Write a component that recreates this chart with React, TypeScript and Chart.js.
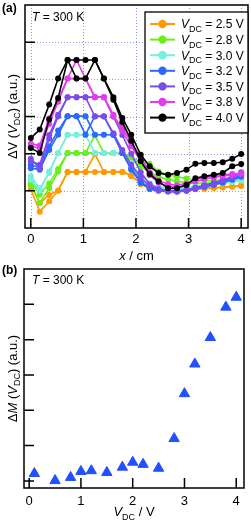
import React, { useEffect, useRef } from "react";
import { Chart, registerables } from "chart.js";

Chart.register(...registerables);

const FONT = '"Liberation Sans", Arial, Helvetica, sans-serif';

// ---------- panel (a) data ----------
const positionsCm = [0, 0.17, 0.35, 0.52, 0.7, 0.87, 1.04, 1.22, 1.39, 1.57, 1.74, 1.91, 2.09, 2.26, 2.43, 2.61, 2.78, 2.96, 3.13, 3.3, 3.48, 3.65, 3.83, 4.0];
const vdcLabels = ["2.5", "2.8", "3.0", "3.2", "3.5", "3.8", "4.0"];
const seriesColors = ["#FF9A00", "#6AEE1C", "#74F0DC", "#2A68FF", "#7A4CF0", "#E23CEE", "#000000"];

const dV25a = [1.2, 0.67, 0.89, 1.01, 1.51, 1.51, 1.51, 1.51, 1.51, 1.51, 1.51, 1.4, 1.21, 1.1, 1.05, 1.02, 1.02, 1.03, 1.05, 1.06, 1.08, 1.09, 1.11, 1.13];
const dV25b = [1.05, 0.44, 0.72, 1.0, 1.51, 1.51, 1.51, 1.99, 1.51, 1.51, 1.51, 1.42, 1.18, 1.07, 1.03, 1.0, 1.0, 1.02, 1.04, 1.06, 1.08, 1.1, 1.12, 1.15];
const dV28a = [1.16, 0.67, 1.07, 1.52, 2.02, 2.02, 2.02, 2.02, 2.02, 2.02, 2.02, 1.9, 1.78, 1.72, 1.52, 1.43, 1.38, 1.33, 1.28, 1.27, 1.28, 1.3, 1.33, 1.36];
const dV28b = [1.25, 0.9, 1.2, 1.59, 2.02, 2.02, 2.02, 2.49, 2.02, 2.02, 2.02, 1.85, 1.65, 1.5, 1.38, 1.3, 1.26, 1.22, 1.2, 1.2, 1.22, 1.25, 1.28, 1.32];
const dV30a = [1.39, 1.07, 1.48, 2.02, 2.51, 2.51, 2.51, 2.02, 2.02, 2.02, 2.02, 1.75, 1.4, 1.2, 1.1, 1.06, 1.06, 1.08, 1.12, 1.15, 1.18, 1.21, 1.25, 1.29];
const dV30b = [1.3, 1.0, 1.52, 2.02, 2.51, 2.51, 2.51, 2.51, 2.51, 2.51, 2.02, 1.65, 1.32, 1.15, 1.08, 1.05, 1.05, 1.07, 1.1, 1.14, 1.17, 1.2, 1.24, 1.27];
const dV32a = [1.61, 1.57, 2.1, 2.51, 3.01, 3.01, 3.01, 2.51, 2.51, 2.51, 2.02, 1.57, 1.21, 1.05, 1.0, 0.98, 0.98, 1.0, 1.05, 1.1, 1.16, 1.22, 1.3, 1.38];
const dV32b = [1.7, 1.62, 2.2, 2.62, 3.01, 3.01, 2.51, 3.01, 3.01, 2.51, 2.02, 1.6, 1.25, 1.08, 1.02, 1.0, 1.0, 1.03, 1.08, 1.13, 1.18, 1.25, 1.33, 1.42];
const dV35a = [1.86, 1.61, 2.4, 3.0, 3.52, 3.52, 3.52, 3.52, 3.52, 3.0, 2.5, 2.0, 1.5, 1.18, 1.05, 1.0, 0.98, 1.02, 1.08, 1.15, 1.22, 1.3, 1.38, 1.47];
const dV35b = [1.8, 1.7, 2.5, 3.05, 3.52, 3.52, 3.52, 3.0, 3.0, 2.55, 2.1, 1.7, 1.35, 1.12, 1.02, 0.98, 0.98, 1.0, 1.06, 1.13, 1.2, 1.28, 1.36, 1.5];
const dV38a = [2.27, 2.22, 2.95, 3.46, 4.02, 4.02, 4.02, 3.52, 3.52, 3.0, 2.7, 2.3, 1.9, 1.5, 1.28, 1.18, 1.15, 1.2, 1.3, 1.36, 1.4, 1.43, 1.45, 1.47];
const dV38b = [2.2, 2.15, 2.8, 3.4, 4.02, 4.52, 4.02, 3.52, 3.52, 3.05, 2.6, 2.2, 1.8, 1.42, 1.22, 1.12, 1.1, 1.15, 1.25, 1.32, 1.36, 1.4, 1.42, 1.45];
const dV40a = [2.42, 2.65, 3.32, 4.02, 4.52, 4.52, 4.52, 4.52, 4.02, 3.52, 2.96, 2.51, 1.97, 1.66, 1.48, 1.43, 1.48, 1.57, 1.73, 1.75, 1.75, 1.77, 1.86, 1.99];
const dV40b = [2.15, 2.02, 2.92, 3.5, 4.52, 4.02, 4.02, 4.52, 4.02, 3.45, 2.85, 2.35, 1.8, 1.45, 1.25, 1.07, 1.07, 1.16, 1.34, 1.39, 1.43, 1.48, 1.66, 1.72];

const seriesA = [dV25a, dV28a, dV30a, dV32a, dV35a, dV38a, dV40a];
const seriesB = [dV25b, dV28b, dV30b, dV32b, dV35b, dV38b, dV40b];

const xTicksA = [0, 1, 2, 3, 4];
const yTicksA = [1, 2, 3, 4, 5];

// ---------- panel (b) data ----------
const vdcB = [0.1, 0.5, 0.8, 1.0, 1.2, 1.5, 1.8, 2.0, 2.2, 2.5, 2.8, 3.0, 3.2, 3.5, 3.8, 4.0];
const dMB = [0.21, 0.01, 0.1, 0.27, 0.29, 0.24, 0.39, 0.53, 0.47, 0.36, 1.2, 2.47, 3.31, 4.06, 4.92, 5.2];
const xTicksB = [0, 1, 2, 3, 4];
const yTicksB = [0, 1, 2, 3, 4, 5];
const triColor = "#2350FF";

// ---------- rich text helpers ----------
type Part = { t: string; i?: boolean; b?: boolean; sub?: boolean };

function fontOf(p: Part, size: number) {
  const s = p.sub ? Math.round(size * 0.72) : size;
  return `${p.i ? "italic " : ""}${p.b ? "bold " : ""}${s}px ${FONT}`;
}

function drawRich(ctx: CanvasRenderingContext2D, parts: Part[], x: number, y: number, size: number, align: "left" | "center") {
  ctx.save();
  ctx.textAlign = "left";
  ctx.textBaseline = "alphabetic";
  ctx.fillStyle = "#000";
  let w = 0;
  for (const p of parts) {
    ctx.font = fontOf(p, size);
    w += ctx.measureText(p.t).width;
  }
  let cx = align === "center" ? x - w / 2 : x;
  for (const p of parts) {
    ctx.font = fontOf(p, size);
    ctx.fillText(p.t, cx, p.sub ? y + size * 0.3 : y);
    cx += ctx.measureText(p.t).width;
  }
  ctx.restore();
}

function drawFrameAndTicks(chart: any, xt: number[], yt: number[]) {
  const { ctx, chartArea: a, scales } = chart;
  ctx.save();
  ctx.strokeStyle = "#000";
  ctx.lineWidth = 1.5;
  ctx.strokeRect(a.left, a.top, a.right - a.left, a.bottom - a.top);
  ctx.beginPath();
  for (const v of xt) {
    const px = scales.x.getPixelForValue(v);
    ctx.moveTo(px, a.bottom);
    ctx.lineTo(px, a.bottom - 10);
  }
  for (const v of yt) {
    const py = scales.y.getPixelForValue(v);
    ctx.moveTo(a.left, py);
    ctx.lineTo(a.left + 10, py);
  }
  ctx.stroke();
  ctx.restore();
}

const gridPluginA = {
  id: "gridA",
  beforeDatasetsDraw(chart: any) {
    const { ctx, chartArea: a, scales } = chart;
    ctx.save();
    ctx.strokeStyle = "#8E98EE";
    ctx.lineWidth = 1;
    ctx.setLineDash([1, 2]);
    ctx.beginPath();
    for (const v of xTicksA) {
      const px = Math.round(scales.x.getPixelForValue(v)) + 0.5;
      ctx.moveTo(px, a.top);
      ctx.lineTo(px, a.bottom);
    }
    for (const v of yTicksA) {
      const py = Math.round(scales.y.getPixelForValue(v)) + 0.5;
      ctx.moveTo(a.left, py);
      ctx.lineTo(a.right, py);
    }
    ctx.stroke();
    ctx.restore();
  },
};

const decorPluginA = {
  id: "decorA",
  afterDraw(chart: any) {
    const { ctx, chartArea: a } = chart;
    drawFrameAndTicks(chart, xTicksA, yTicksA);
    drawRich(ctx, [{ t: "(a)", b: true }], 2, 12, 12, "left");
    drawRich(ctx, [{ t: "T", i: true }, { t: " = 300 K" }], a.left + 7, a.top + 16, 12, "left");
    drawRich(ctx, [{ t: "x", i: true }, { t: " / cm" }], (a.left + a.right) / 2, 260, 13, "center");
    ctx.save();
    ctx.translate(12, (a.top + a.bottom) / 2);
    ctx.rotate(-Math.PI / 2);
    drawRich(ctx, [{ t: "ΔV" }, { t: " (" }, { t: "V", i: true }, { t: "DC", sub: true }, { t: ") (a.u.)" }], 0, 4.5, 13, "center");
    ctx.restore();
    // legend
    const lx = 145, ly = a.top + 7, lw = a.right - 145, lh = 121;
    ctx.save();
    ctx.fillStyle = "#fff";
    ctx.fillRect(lx, ly, lw, lh);
    ctx.strokeStyle = "#000";
    ctx.lineWidth = 1.3;
    ctx.strokeRect(lx, ly, lw, lh);
    ctx.restore();
    vdcLabels.forEach((lab, i) => {
      const cy = ly + 12 + i * 15.6;
      ctx.save();
      ctx.strokeStyle = seriesColors[i];
      ctx.fillStyle = seriesColors[i];
      ctx.lineWidth = 2;
      ctx.beginPath();
      ctx.moveTo(150, cy);
      ctx.lineTo(175, cy);
      ctx.stroke();
      ctx.beginPath();
      ctx.arc(162.5, cy, 4.2, 0, Math.PI * 2);
      ctx.fill();
      ctx.restore();
      drawRich(ctx, [{ t: "V", i: true }, { t: "DC", sub: true }, { t: ` = ${lab} V` }], 181, cy + 4.3, 12, "left");
    });
  },
};

const decorPluginB = {
  id: "decorB",
  afterDraw(chart: any) {
    const { ctx, chartArea: a } = chart;
    drawFrameAndTicks(chart, xTicksB, yTicksB);
    drawRich(ctx, [{ t: "(b)", b: true }], 2, 12, 12, "left");
    drawRich(ctx, [{ t: "T", i: true }, { t: " = 300 K" }], a.left + 8, a.top + 15, 12, "left");
    drawRich(ctx, [{ t: "V", i: true }, { t: "DC", sub: true }, { t: " / V" }], (a.left + a.right) / 2, 254, 13, "center");
    ctx.save();
    ctx.translate(12, (a.top + a.bottom) / 2);
    ctx.rotate(-Math.PI / 2);
    drawRich(ctx, [{ t: "Δ" }, { t: "M", i: true }, { t: " (" }, { t: "V", i: true }, { t: "DC", sub: true }, { t: ") (a.u.)" }], 0, 4.5, 13, "center");
    ctx.restore();
  },
};

function makeA(canvas: HTMLCanvasElement) {
  const datasets: any[] = [];
  seriesA.forEach((vals, gi) => {
    [vals, seriesB[gi]].forEach((arr, k) => {
      datasets.push({
        label: `VDC = ${vdcLabels[gi]} V`,
        data: arr.map((y, i) => ({ x: positionsCm[i], y })),
        borderColor: seriesColors[gi],
        backgroundColor: seriesColors[gi],
        pointBackgroundColor: seriesColors[gi],
        pointBorderColor: seriesColors[gi],
        borderWidth: 1.6,
        pointRadius: 3,
        pointBorderWidth: 0,
        pointHoverRadius: 3,
        tension: 0,
        order: (seriesA.length - 1 - gi) * 2 + k,
      });
    });
  });
  return new Chart(canvas, {
    type: "line",
    data: { datasets },
    options: {
      responsive: false,
      animation: false,
      events: [],
      layout: { padding: { top: 5, right: 3, left: 0, bottom: 0 } },
      plugins: { legend: { display: false }, tooltip: { enabled: false } },
      scales: {
        x: {
          type: "linear",
          min: -0.11,
          max: 4.13,
          afterBuildTicks: (s: any) => {
            s.ticks = xTicksA.map((v) => ({ value: v }));
          },
          afterFit: (s: any) => {
            s.height = 34;
          },
          grid: { display: false, drawTicks: false },
          border: { display: false },
          ticks: { padding: 4, color: "#000", font: { family: FONT, size: 13 }, maxRotation: 0, autoSkip: false },
        },
        y: {
          type: "linear",
          min: 0,
          max: 6,
          afterBuildTicks: (s: any) => {
            s.ticks = yTicksA.map((v) => ({ value: v }));
          },
          afterFit: (s: any) => {
            s.width = 25;
          },
          grid: { display: false, drawTicks: false },
          border: { display: false },
          ticks: { display: false },
        },
      },
    } as any,
    plugins: [gridPluginA, decorPluginA],
  });
}

function makeB(canvas: HTMLCanvasElement) {
  return new Chart(canvas, {
    type: "scatter",
    data: {
      datasets: [
        {
          label: "ΔM",
          data: vdcB.map((x, i) => ({ x, y: dMB[i] })),
          pointStyle: "triangle",
          pointRadius: 6,
          pointHoverRadius: 6,
          pointBorderWidth: 1,
          backgroundColor: triColor,
          borderColor: triColor,
          showLine: false,
        },
      ],
    },
    options: {
      responsive: false,
      animation: false,
      events: [],
      layout: { padding: { top: 5, right: 3, left: 0, bottom: 0 } },
      plugins: { legend: { display: false }, tooltip: { enabled: false } },
      scales: {
        x: {
          type: "linear",
          min: -0.1,
          max: 4.15,
          afterBuildTicks: (s: any) => {
            s.ticks = xTicksB.map((v) => ({ value: v }));
          },
          afterFit: (s: any) => {
            s.height = 35;
          },
          grid: { display: false, drawTicks: false },
          border: { display: false },
          ticks: { padding: 6, color: "#000", font: { family: FONT, size: 13 }, maxRotation: 0, autoSkip: false },
        },
        y: {
          type: "linear",
          min: -0.2,
          max: 6,
          afterBuildTicks: (s: any) => {
            s.ticks = yTicksB.map((v) => ({ value: v }));
          },
          afterFit: (s: any) => {
            s.width = 24;
          },
          grid: { display: false, drawTicks: false },
          border: { display: false },
          ticks: { display: false },
        },
      },
    } as any,
    plugins: [decorPluginB],
  });
}

function ChartCanvas({ width, height, make }: { width: number; height: number; make: (c: HTMLCanvasElement) => Chart }) {
  const ref = useRef<HTMLCanvasElement>(null);
  useEffect(() => {
    const chart = make(ref.current as HTMLCanvasElement);
    return () => chart.destroy();
  }, []);
  return <canvas ref={ref} width={width} height={height} style={{ display: "block", width, height }} />;
}

export default function App() {
  return (
    <div style={{ position: "absolute", left: 0, top: 0, width: 251, height: 523, background: "#fff" }}>
      <ChartCanvas width={251} height={262} make={makeA} />
      <ChartCanvas width={251} height={261} make={makeB} />
    </div>
  );
}
